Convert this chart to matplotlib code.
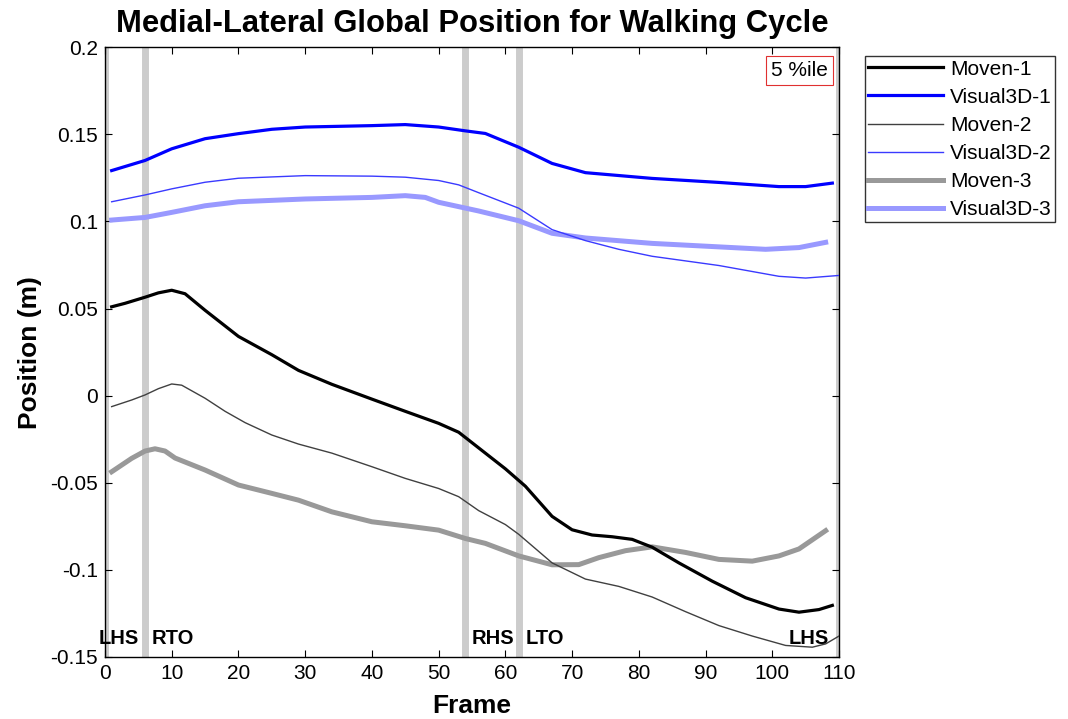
import matplotlib
matplotlib.use("Agg")
import matplotlib.pyplot as plt
from matplotlib.ticker import FuncFormatter

plt.rcParams['font.family'] = ['Liberation Sans', 'DejaVu Sans']
plt.rcParams['axes.unicode_minus'] = False

# ML position per frame, three trials, two systems
moven1_x = [1, 3, 6, 8, 10, 12, 15, 18, 20, 25, 29, 34, 40, 45, 50, 53, 56, 60, 63, 67,
            70, 73, 76, 79, 82, 86, 91, 96, 101, 104, 107, 109]
moven1_y = [0.051, 0.053, 0.0565, 0.059, 0.0605, 0.0585, 0.049, 0.040, 0.034, 0.0235,
            0.0145, 0.0065, -0.002, -0.009, -0.0159, -0.021, -0.030, -0.042, -0.052,
            -0.0693, -0.077, -0.080, -0.081, -0.0825, -0.087, -0.096, -0.1065, -0.116,
            -0.1225, -0.1243, -0.1228, -0.1204]

visual1_x = [1, 6, 10, 15, 20, 25, 30, 40, 45, 50, 54, 57, 62, 67, 72, 82, 92, 101, 105, 109]
visual1_y = [0.1292, 0.135, 0.1417, 0.1475, 0.1504, 0.1529, 0.1542, 0.155, 0.1556, 0.1542,
             0.152, 0.1505, 0.1426, 0.1333, 0.128, 0.1247, 0.1224, 0.120, 0.120, 0.122]

moven2_x = [1, 4, 6, 8, 10, 11.5, 15, 18, 21, 25, 29, 34, 40, 45, 50, 53, 56, 60, 62, 67,
            72, 77, 82, 87, 92, 97, 102, 106, 108, 110]
moven2_y = [-0.0063, -0.0025, 0.0004, 0.004, 0.0067, 0.006, -0.0015, -0.009, -0.0155,
            -0.0226, -0.0278, -0.033, -0.0408, -0.0475, -0.0533, -0.058, -0.066, -0.074,
            -0.0796, -0.096, -0.1053, -0.1095, -0.1156, -0.124, -0.132, -0.138, -0.1434,
            -0.1444, -0.1425, -0.138]

visual2_x = [1, 6, 10, 15, 20, 30, 40, 45, 50, 53, 56, 62, 67, 72, 77, 82, 92, 101, 105, 110]
visual2_y = [0.1113, 0.1152, 0.1187, 0.1225, 0.1248, 0.1263, 0.126, 0.1254, 0.1235, 0.121,
             0.1165, 0.1076, 0.0953, 0.089, 0.084, 0.080, 0.0747, 0.0685, 0.0675, 0.069]

moven3_x = [1, 4, 6, 7.5, 9, 10.5, 15, 20, 25, 29, 34, 40, 45, 50, 54, 57, 62, 67, 71, 74,
            78, 82, 87, 92, 97, 101, 104, 108]
moven3_y = [-0.0437, -0.036, -0.0318, -0.0305, -0.0318, -0.0358, -0.0427, -0.0513, -0.0561,
            -0.060, -0.0667, -0.0724, -0.0747, -0.0772, -0.082, -0.0848, -0.092, -0.0971,
            -0.097, -0.093, -0.089, -0.0868, -0.090, -0.094, -0.095, -0.092, -0.088, -0.0775]

visual3_x = [1, 6, 10, 15, 20, 30, 40, 45, 48, 50, 56, 62, 67, 72, 82, 92, 99, 104, 108]
visual3_y = [0.1008, 0.1023, 0.1052, 0.109, 0.1113, 0.1129, 0.1138, 0.1148, 0.1138, 0.111,
             0.106, 0.1004, 0.0932, 0.0905, 0.0874, 0.0854, 0.084, 0.085, 0.088]

# gait events (frame) and their labels
event_frames = [0, 6, 54, 62, 110]
event_labels = ['LHS', 'RTO', 'RHS', 'LTO', 'LHS']
label_frames = [-1, 7, 55, 63, 102.5]

fig = plt.figure(figsize=(10.68, 7.19), dpi=100)
ax = fig.add_axes([0.0983, 0.0863, 0.6873, 0.848])

for f in event_frames:
    ax.axvline(f, color='#cccccc', lw=5, zorder=1)

ax.plot(moven1_x, moven1_y, color='black', lw=2.3, label='Moven-1', zorder=3)
ax.plot(visual1_x, visual1_y, color='#0000ff', lw=2.3, label='Visual3D-1', zorder=3)
ax.plot(moven2_x, moven2_y, color='#404040', lw=1.0, label='Moven-2', zorder=3)
ax.plot(visual2_x, visual2_y, color='#3a3aff', lw=1.0, label='Visual3D-2', zorder=3)
ax.plot(moven3_x, moven3_y, color='#999999', lw=3.6, label='Moven-3', zorder=2)
ax.plot(visual3_x, visual3_y, color='#9999ff', lw=3.6, label='Visual3D-3', zorder=2)

for xf, lab in zip(label_frames, event_labels):
    ax.text(xf, -0.1395, lab, fontsize=14.5, fontweight='bold', ha='left', va='center',
            zorder=4)

ax.text(0.985, 0.977, '5 %ile', transform=ax.transAxes, fontsize=15, ha='right', va='top',
        bbox=dict(boxstyle='square,pad=0.25', facecolor='white', edgecolor='#e03030', lw=0.8),
        zorder=5)

ax.set_xlim(0, 110)
ax.set_ylim(-0.15, 0.2)
ax.set_xticks(range(0, 111, 10))
ax.set_yticks([-0.15, -0.1, -0.05, 0, 0.05, 0.1, 0.15, 0.2])
ax.yaxis.set_major_formatter(FuncFormatter(lambda v, p: '%g' % round(v, 2)))
ax.tick_params(direction='in', top=True, right=True, labelsize=15, length=5, width=0.8,
               pad=5)
for s in ax.spines.values():
    s.set_linewidth(1.0)

ax.set_title('Medial-Lateral Global Position for Walking Cycle', fontsize=22.3,
             fontweight='bold', pad=11)
ax.set_xlabel('Frame', fontsize=19, fontweight='bold', labelpad=8)
ax.set_ylabel('Position (m)', fontsize=19, fontweight='bold', labelpad=6)

leg = ax.legend(loc='upper left', bbox_to_anchor=(1.035, 0.985), fontsize=15,
                frameon=True, fancybox=False, edgecolor='black', handlelength=3.6,
                handletextpad=0.35, labelspacing=0.44, borderaxespad=0, borderpad=0.15)
leg.get_frame().set_linewidth(1.0)

fig.savefig('out.png', dpi=100)
plt.close(fig)
